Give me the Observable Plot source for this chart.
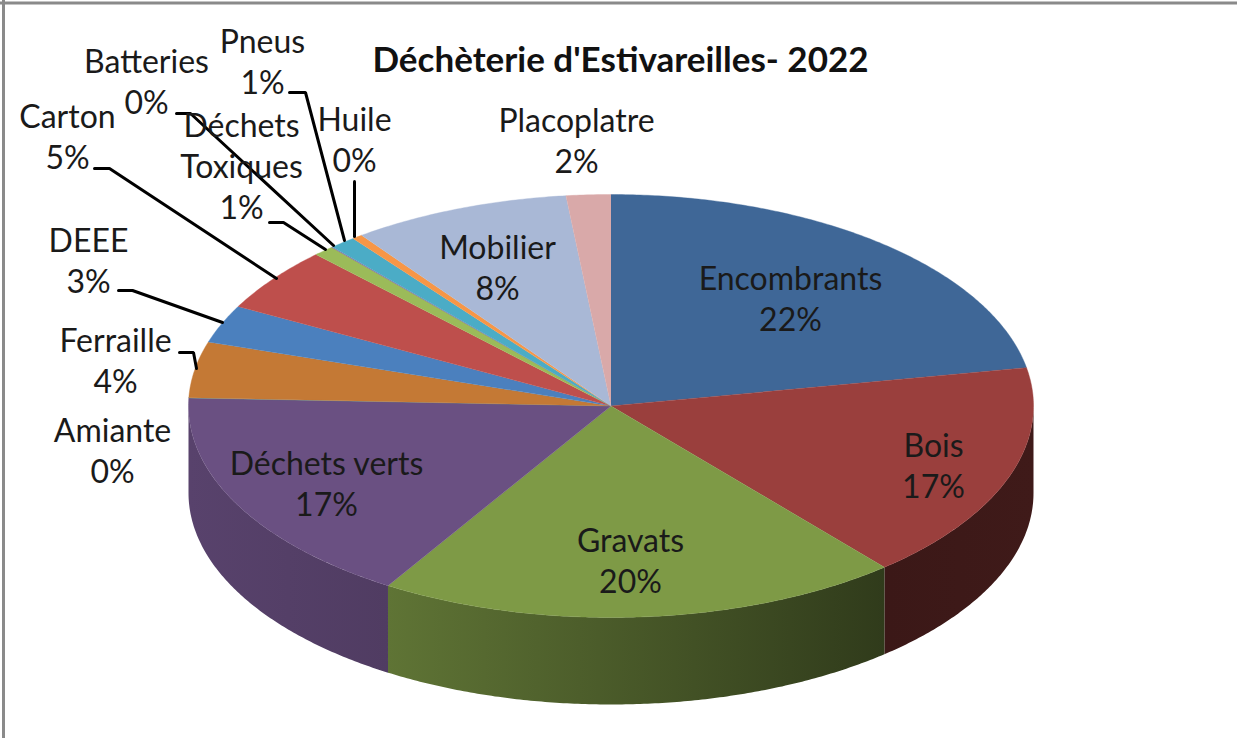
<!DOCTYPE html>
<html>
<head>
<meta charset="utf-8">
<style>html,body{margin:0;padding:0;background:#fff}svg{display:block}</style>
<script src="https://cdn.jsdelivr.net/npm/d3@7"></script>
<script src="https://cdn.jsdelivr.net/npm/@observablehq/plot@0.6"></script>
</head>
<body>
<script>
// Data (shares in %)
const categories = ["Encombrants","Bois","Gravats","Déchets verts","Amiante","Ferraille","DEEE","Carton","Déchets\nToxiques","Batteries","Pneus","Huile","Mobilier","Placoplatre"];
const shares = [22.1,16.7,20.05,16.75,0.02,4.28,2.9,4.9,0.8,0.05,1.0,0.4,8.35,1.7];
const chartTitle = "Déchèterie d'Estivareilles- 2022";

// Styles
const sliceColors = ["#3F6797","#9A3F3D","#7E9A46","#6A5082","#3F8FA5","#C47935","#4B80BE","#BE4F4C","#9BBB59","#8064A2","#4BACC6","#F79646","#A9B8D6","#D9A9A9"];

// Layout, in page pixels
const pie = {cx: 610.5, cy: 405.5, rx: 422.5, ry: 211.5, depth: 87};
const labelPos = [[790,297],[933,463.5],[630,559],[326,482],[112,448.5],[115,358.5],[88,258.5],[67,134.5],[241,164.5],[146,79.5],[262,59.5],[354,137.5],[497,266],[576,138.5]];
const leaders = {
  Pneus: [[289,92],[305,92],[344,240]],
  Batteries: [[176,113],[190,113],[333,245]],
  Huile: [[354,181],[354,236]],
  Carton: [[94,168],[109,168],[276,278]],
  Toxiques: [[269,222],[283,222],[325,249]],
  DEEE: [[118,290],[132,290],[222,322]],
  Ferraille: [[179,352],[193,352],[196,368]]
};
const shadeStops = [[188,0.83],[388,0.75],[885,0.38],[1033,0.41]];
const shade = d3.scaleLinear().domain(shadeStops.map(d => d[0])).range(shadeStops.map(d => d[1]));

const rad = d => d * Math.PI / 180;
const px = t => pie.cx + pie.rx * Math.sin(rad(t));
const py = t => pie.cy - pie.ry * Math.cos(rad(t));

const cum = d3.cumsum(shares);
const slices = categories.map((name, i) => ({
  name, i, a0: (i ? cum[i-1] : 0) * 3.6, a1: cum[i] * 3.6, color: sliceColors[i], share: shares[i]
}));

function arc(a0, a1) {
  const n = Math.max(2, Math.ceil((a1 - a0) / 0.5));
  return d3.range(n + 1).map(k => a0 + (a1 - a0) * k / n);
}

// Top faces
const topRows = slices.flatMap(s => [
  {id: s.i, x: pie.cx, y: pie.cy, c: s.color},
  ...arc(s.a0, s.a1).map(t => ({id: s.i, x: px(t), y: py(t), c: s.color}))
]);

// Side wall: one polygon per visible slice, filled by a horizontal gradient
const sideSlices = slices.filter(s => Math.min(s.a1, 270) > Math.max(s.a0, 90));
const sideRows = sideSlices.flatMap(s => {
  const ts = arc(Math.max(s.a0, 90), Math.min(s.a1, 270));
  const c = `url(#side-${s.i})`;
  return [
    ...ts.map(t => ({id: s.i, c, x: px(t), y: py(t)})),
    ...ts.slice().reverse().map(t => ({id: s.i, c, x: px(t), y: py(t) + pie.depth}))
  ];
});

const gradients = () => {
  const defs = d3.create("svg:defs");
  sideSlices.forEach(s => {
    const base = d3.rgb(s.color);
    const g = defs.append("linearGradient").attr("id", `side-${s.i}`)
      .attr("gradientUnits", "userSpaceOnUse")
      .attr("x1", shadeStops[0][0]).attr("x2", shadeStops[3][0]).attr("y1", 0).attr("y2", 0);
    shadeStops.forEach(([x, f]) => {
      g.append("stop")
        .attr("offset", (x - shadeStops[0][0]) / (shadeStops[3][0] - shadeStops[0][0]))
        .attr("stop-color", d3.rgb(base.r * f, base.g * f, base.b * f).formatHex());
    });
  });
  return defs.node();
};

const labels = slices.map(s => ({
  text: s.name + "\n" + Math.round(s.share) + "%",
  x: labelPos[s.i][0], y: labelPos[s.i][1]
}));
const leaderRows = Object.entries(leaders).flatMap(([id, pts]) => pts.map(([x, y]) => ({id, x, y})));

const chart = Plot.plot({
  width: 1237, height: 738,
  margin: 0,
  x: {domain: [0, 1237], range: [0, 1237], axis: null},
  y: {domain: [0, 738], range: [0, 738], axis: null},
  color: {type: "identity"},
  style: {background: "#fff"},
  marks: [
    gradients,
    Plot.line(sideRows, {x: "x", y: "y", z: "id", fill: "c", curve: "linear"}),
    Plot.line(topRows, {x: "x", y: "y", z: "id", fill: "c", stroke: "c", strokeWidth: 0.4, curve: "linear"}),
    Plot.line(leaderRows, {x: "x", y: "y", z: "id", stroke: "#000", strokeWidth: 3, curve: "linear", strokeLinejoin: "miter"}),
    Plot.text(labels, {x: "x", y: "y", text: "text", fill: "#1a1a1a", fontSize: 32, fontFamily: "Lato", lineHeight: 1.28, lineAnchor: "middle", textAnchor: "middle"}),
    Plot.text([chartTitle], {x: [620], y: [60], text: d => d, fill: "#111", fontSize: 35, fontWeight: 700, fontFamily: "Lato", lineAnchor: "middle", textAnchor: "middle"}),
    Plot.ruleY([2.5], {stroke: "#8a8a8a", strokeWidth: 3}),
    Plot.ruleX([3], {stroke: "#8a8a8a", strokeWidth: 3})
  ]
});
document.body.appendChild(chart);
</script>
</body>
</html>
